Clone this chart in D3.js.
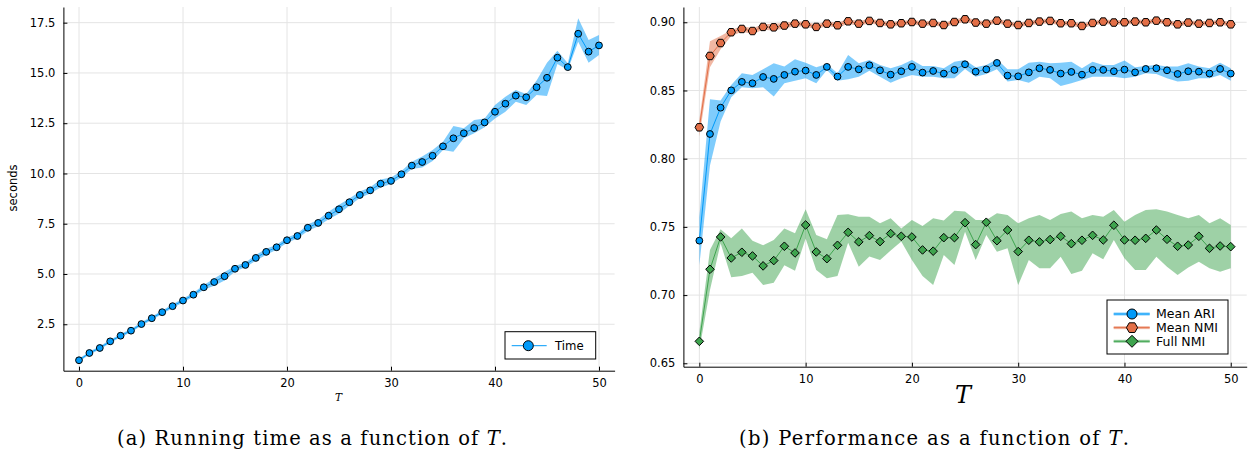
<!DOCTYPE html>
<html>
<head>
<meta charset="utf-8">
<script src="https://cdn.jsdelivr.net/npm/d3@7"></script>
<style>
  html, body { margin: 0; padding: 0; background: #fff; }
  svg { display: block; }
  .tick text { font-family: "DejaVu Sans", sans-serif; fill: #000; }
</style>
</head>
<body>
<script>
// ---- data ----------------------------------------------------------------
const tValues = [0,1,2,3,4,5,6,7,8,9,10,11,12,13,14,15,16,17,18,19,20,
  21,22,23,24,25,26,27,28,29,30,31,32,33,34,35,36,37,38,39,40,
  41,42,43,44,45,46,47,48,49,50];

// running time (seconds): mean and ribbon bounds
const timeMean = [0.71,1.07,1.32,1.65,1.93,2.18,2.51,2.80,3.10,3.40,3.68,3.97,4.34,4.60,4.89,5.26,5.45,5.80,6.10,6.33,6.68,
  6.89,7.30,7.54,7.90,8.22,8.57,8.93,9.16,9.49,9.63,9.96,10.39,10.57,10.88,11.35,11.75,12.00,12.26,12.54,13.07,
  13.47,13.87,13.79,14.29,14.76,15.76,15.29,16.95,16.06,16.37];
const timeLo = [0.64,1.00,1.25,1.57,1.85,2.10,2.43,2.71,3.01,3.31,3.58,3.87,4.22,4.42,4.68,5.13,5.34,5.66,5.96,6.21,6.55,
  6.77,7.14,7.38,7.72,8.00,8.40,8.78,9.00,9.30,9.48,9.80,10.22,10.30,10.62,11.17,11.08,11.75,12.00,12.30,12.74,
  13.07,13.57,13.40,13.90,13.85,15.45,15.15,16.55,15.51,15.89];
const timeHi = [0.78,1.14,1.40,1.73,2.01,2.27,2.60,2.89,3.19,3.49,3.78,4.07,4.45,4.78,5.10,5.40,5.57,5.95,6.26,6.46,6.81,
  7.01,7.46,7.70,8.10,8.45,8.76,9.10,9.32,9.70,9.80,10.12,10.58,10.84,11.17,11.58,12.36,12.25,12.66,12.74,13.40,
  13.82,14.15,13.95,14.62,15.51,16.11,15.48,17.72,16.64,16.89];

// clustering quality
const ariMean = [0.7399,0.8181,0.8374,0.8501,0.8563,0.8553,0.8599,0.8585,0.8614,0.8638,0.8646,0.8614,0.8673,0.8602,0.8673,0.8655,0.8685,
  0.8648,0.8616,0.8641,0.8673,0.8631,0.8643,0.8624,0.8651,0.8692,0.8638,0.8655,0.8702,0.8609,0.8604,0.8633,0.8663,0.8651,
  0.8624,0.8636,0.8616,0.8651,0.8651,0.8641,0.8653,0.8633,0.8658,0.8663,0.8648,0.8621,0.8641,0.8638,0.8624,0.8658,0.8624];
const ariLo = [0.7220,0.7950,0.8272,0.8450,0.8523,0.8516,0.8523,0.8455,0.8553,0.8572,0.8589,0.8553,0.8650,0.8572,0.8582,0.8601,0.8645,
  0.8601,0.8557,0.8589,0.8614,0.8601,0.8601,0.8589,0.8589,0.8658,0.8601,0.8621,0.8655,0.8565,0.8577,0.8557,0.8601,0.8589,
  0.8533,0.8553,0.8577,0.8601,0.8601,0.8601,0.8589,0.8601,0.8626,0.8621,0.8589,0.8565,0.8572,0.8589,0.8589,0.8614,0.8572];
const ariHi = [0.7570,0.8435,0.8426,0.8540,0.8626,0.8614,0.8655,0.8699,0.8675,0.8729,0.8704,0.8670,0.8695,0.8626,0.8760,0.8699,0.8724,
  0.8687,0.8663,0.8687,0.8724,0.8680,0.8680,0.8663,0.8711,0.8724,0.8670,0.8687,0.8729,0.8655,0.8655,0.8704,0.8711,0.8699,
  0.8704,0.8711,0.8663,0.8711,0.8687,0.8687,0.8719,0.8670,0.8680,0.8687,0.8675,0.8675,0.8699,0.8675,0.8663,0.8704,0.8663];

const nmiMean = [0.8230,0.8753,0.8848,0.8927,0.8951,0.8936,0.8966,0.8963,0.8976,0.8990,0.8985,0.8966,0.8990,0.8978,0.9007,0.8990,0.9010,
  0.8995,0.8985,0.8993,0.9002,0.8990,0.8995,0.8980,0.9002,0.9022,0.8998,0.8990,0.9012,0.8990,0.8980,0.8995,0.9005,0.9010,
  0.8993,0.8993,0.8973,0.8995,0.9005,0.8998,0.9000,0.9005,0.9000,0.9012,0.9000,0.8985,0.8998,0.8990,0.8995,0.9000,0.8985];
const nmiLo = [0.8162,0.8670,0.8802,0.8900,0.8931,0.8914,0.8945,0.8940,0.8955,0.8970,0.8967,0.8948,0.8972,0.8960,0.8990,0.8973,0.8993,
  0.8978,0.8967,0.8976,0.8985,0.8973,0.8978,0.8963,0.8985,0.9004,0.8981,0.8973,0.8995,0.8973,0.8963,0.8978,0.8988,0.8993,
  0.8976,0.8976,0.8956,0.8978,0.8988,0.8981,0.8983,0.8988,0.8983,0.8995,0.8983,0.8968,0.8981,0.8973,0.8978,0.8983,0.8968];
const nmiHi = [0.8284,0.8860,0.8900,0.8944,0.8973,0.8956,0.8985,0.8990,0.8995,0.9008,0.9003,0.8984,0.9008,0.8996,0.9024,0.9007,0.9027,
  0.9012,0.9003,0.9010,0.9019,0.9007,0.9012,0.8997,0.9019,0.9040,0.9015,0.9007,0.9029,0.9007,0.8997,0.9012,0.9022,0.9027,
  0.9010,0.9010,0.8990,0.9012,0.9022,0.9015,0.9017,0.9022,0.9017,0.9029,0.9017,0.9002,0.9015,0.9007,0.9012,0.9017,0.9002];

const fullMean = [0.6661,0.7189,0.7426,0.7272,0.7314,0.7287,0.7214,0.7253,0.7358,0.7309,0.7514,0.7316,0.7267,0.7365,0.7460,0.7390,0.7436,
  0.7392,0.7451,0.7431,0.7426,0.7331,0.7322,0.7421,0.7421,0.7531,0.7370,0.7534,0.7399,0.7477,0.7319,0.7402,0.7390,0.7407,
  0.7431,0.7377,0.7402,0.7438,0.7404,0.7512,0.7404,0.7402,0.7416,0.7477,0.7409,0.7358,0.7367,0.7431,0.7343,0.7360,0.7355];
const fullLo = [0.6600,0.7037,0.7380,0.7130,0.7140,0.7164,0.7074,0.7091,0.7218,0.7179,0.7414,0.7184,0.7123,0.7140,0.7384,0.7208,0.7282,
  0.7257,0.7326,0.7392,0.7257,0.7140,0.7074,0.7294,0.7221,0.7465,0.7257,0.7441,0.7318,0.7343,0.7074,0.7257,0.7196,0.7196,
  0.7281,0.7155,0.7179,0.7306,0.7262,0.7404,0.7270,0.7184,0.7184,0.7281,0.7208,0.7147,0.7203,0.7245,0.7196,0.7172,0.7196];
const fullHi = [0.6730,0.7331,0.7482,0.7416,0.7489,0.7399,0.7365,0.7404,0.7489,0.7453,0.7629,0.7441,0.7409,0.7587,0.7592,0.7575,0.7575,
  0.7526,0.7563,0.7489,0.7551,0.7507,0.7563,0.7546,0.7619,0.7612,0.7551,0.7551,0.7600,0.7587,0.7526,0.7563,0.7587,0.7551,
  0.7595,0.7612,0.7563,0.7587,0.7575,0.7624,0.7538,0.7587,0.7624,0.7629,0.7612,0.7587,0.7563,0.7587,0.7526,0.7563,0.7514];

// ticks
const xTickValues = [0,10,20,30,40,50];
const timeTickValues = [2.5,5.0,7.5,10.0,12.5,15.0,17.5];
const perfTickValues = [0.65,0.70,0.75,0.80,0.85,0.90];

// series labels and captions
const timeLabel = "Time";
const perfLabels = ["Mean ARI","Mean NMI","Full NMI"];
const captionA = "(a) Running time as a function of ";
const captionB = "(b) Performance as a function of ";

// ---- drawing -------------------------------------------------------------
const COL = { blue: "#009AF9", orange: "#E36F47", green: "#3EA44E" };
const W = 1248, H = 454;
const svg = d3.select("body").append("svg").attr("width", W).attr("height", H);

function marker(g, shape, x, y, s, color) {
  let el;
  if (shape === "circle") {
    el = g.append("circle").attr("cx", x).attr("cy", y).attr("r", s);
  } else if (shape === "hexagon") {
    const pts = d3.range(6).map(i => {
      const a = Math.PI / 3 * i;
      return [x + s * Math.cos(a), y + s * Math.sin(a)];
    });
    el = g.append("polygon").attr("points", pts.map(p => p.join(",")).join(" "));
  } else {
    el = g.append("polygon").attr("points",
      [[x, y - s], [x + s, y], [x, y + s], [x - s, y]].map(p => p.join(",")).join(" "));
  }
  el.attr("fill", color).attr("stroke", "#000").attr("stroke-width", 1);
  return el;
}

function drawFrame(x, y, xTicks, yTicks) {
  const [x0, x1] = x.range();
  const [y0, y1] = y.range();
  const grid = svg.append("g").attr("stroke", "#e4e4e4").attr("stroke-width", 1);
  xTicks.forEach(t => grid.append("line").attr("x1", x(t)).attr("x2", x(t)).attr("y1", y0).attr("y2", y1));
  yTicks.forEach(t => grid.append("line").attr("x1", x0).attr("x2", x1).attr("y1", y(t)).attr("y2", y(t)));
}

function drawAxes(x, y, xTicks, yTicks, yFmt, fontSize) {
  const gx = svg.append("g").attr("transform", `translate(0,${y.range()[0]})`)
    .call(d3.axisBottom(x).tickValues(xTicks).tickFormat(d3.format("d"))
      .tickSizeInner(-4).tickSizeOuter(0).tickPadding(8));
  const gy = svg.append("g").attr("transform", `translate(${x.range()[0]},0)`)
    .call(d3.axisLeft(y).tickValues(yTicks).tickFormat(yFmt)
      .tickSizeInner(-4).tickSizeOuter(0).tickPadding(8));
  [gx, gy].forEach(g => {
    g.selectAll("text").attr("font-size", fontSize);
    g.select(".domain").attr("stroke", "#000").attr("stroke-width", 1);
    g.selectAll(".tick line").attr("stroke", "#000");
  });
}

function drawSeries(x, y, mean, lo, hi, color, shape, size) {
  const g = svg.append("g");
  const area = d3.area().x((d, i) => x(tValues[i])).y0((d, i) => y(lo[i])).y1((d, i) => y(hi[i]));
  g.append("path").datum(mean).attr("d", area).attr("fill", color).attr("fill-opacity", 0.5);
  const line = d3.line().x((d, i) => x(tValues[i])).y(d => y(d));
  g.append("path").datum(mean).attr("d", line).attr("fill", "none").attr("stroke", color).attr("stroke-width", 1);
  mean.forEach((v, i) => marker(g, shape, x(tValues[i]), y(v), size, color));
}

// left panel: running time
const xL = d3.scaleLinear().domain([-1.5, 51.5]).range([63.4, 614.6]);
const yL = d3.scaleLinear().domain([0.19, 18.28]).range([370.7, 7]);
drawFrame(xL, yL, xTickValues, timeTickValues);
drawSeries(xL, yL, timeMean, timeLo, timeHi, COL.blue, "circle", 3.4);
drawAxes(xL, yL, xTickValues, timeTickValues, d3.format(".1f"), 11.5);

svg.append("text").attr("transform", "translate(17,188) rotate(-90)")
  .attr("text-anchor", "middle").attr("font-family", "DejaVu Sans").attr("font-size", 11.5)
  .text("seconds");
svg.append("text").attr("x", 338.5).attr("y", 401).attr("text-anchor", "middle")
  .attr("font-family", "DejaVu Serif").attr("font-style", "italic").attr("font-size", 10.5)
  .text("T");

// left legend
const legL = svg.append("g");
legL.append("rect").attr("x", 505).attr("y", 331.7).attr("width", 90.7).attr("height", 27.3)
  .attr("fill", "#fff").attr("stroke", "#000").attr("stroke-width", 1);
legL.append("line").attr("x1", 511.7).attr("x2", 546.7).attr("y1", 345.7).attr("y2", 345.7)
  .attr("stroke", COL.blue).attr("stroke-width", 1);
marker(legL, "circle", 528.3, 345.7, 5, COL.blue);
legL.append("text").attr("x", 555).attr("y", 349.8).attr("font-family", "DejaVu Sans")
  .attr("font-size", 11.7).text(timeLabel);

// right panel: performance
const xR = d3.scaleLinear().domain([-1.5, 51.5]).range([683.4, 1246.7]);
const yR = d3.scaleLinear().domain([0.6475, 0.9112]).range([366.7, 7]);
drawFrame(xR, yR, xTickValues, perfTickValues);
drawSeries(xR, yR, ariMean, ariLo, ariHi, COL.blue, "circle", 3.4);
drawSeries(xR, yR, nmiMean, nmiLo, nmiHi, COL.orange, "hexagon", 4.3);
drawSeries(xR, yR, fullMean, fullLo, fullHi, COL.green, "diamond", 4.3);
drawAxes(xR, yR, xTickValues, perfTickValues, d3.format(".2f"), 11.5);

svg.append("text").attr("x", 963).attr("y", 403).attr("text-anchor", "middle")
  .attr("font-family", "DejaVu Serif").attr("font-style", "italic").attr("font-size", 24)
  .text("T");

// right legend
const legR = svg.append("g");
legR.append("rect").attr("x", 1107).attr("y", 300).attr("width", 121).attr("height", 54)
  .attr("fill", "#fff").attr("stroke", "#000").attr("stroke-width", 1);
const legItems = [
  { label: perfLabels[0], color: COL.blue, shape: "circle", size: 5 },
  { label: perfLabels[1], color: COL.orange, shape: "hexagon", size: 5.6 },
  { label: perfLabels[2], color: COL.green, shape: "diamond", size: 6 }
];
legItems.forEach((d, i) => {
  const yy = 314 + i * 13.65;
  legR.append("rect").attr("x", 1113.7).attr("y", yy - 1.5).attr("width", 36).attr("height", 3)
    .attr("fill", d.color).attr("fill-opacity", 0.5);
  legR.append("line").attr("x1", 1113.7).attr("x2", 1149.7).attr("y1", yy).attr("y2", yy)
    .attr("stroke", d.color).attr("stroke-width", 1);
  marker(legR, d.shape, 1132, yy, d.size, d.color);
  legR.append("text").attr("x", 1156).attr("y", yy + 4.3).attr("font-family", "DejaVu Sans")
    .attr("font-size", 12.5).text(d.label);
});

// captions
function caption(cx, text) {
  const t = svg.append("text").attr("x", cx).attr("y", 445).attr("text-anchor", "middle")
    .attr("font-family", "DejaVu Serif").attr("font-size", 19.5).attr("fill", "#000")
    .attr("textLength", 390).attr("lengthAdjust", "spacing");
  t.append("tspan").text(text);
  t.append("tspan").attr("font-style", "italic").text("T");
  t.append("tspan").text(".");
}
caption(312, captionA);
caption(934, captionB);
</script>
</body>
</html>
